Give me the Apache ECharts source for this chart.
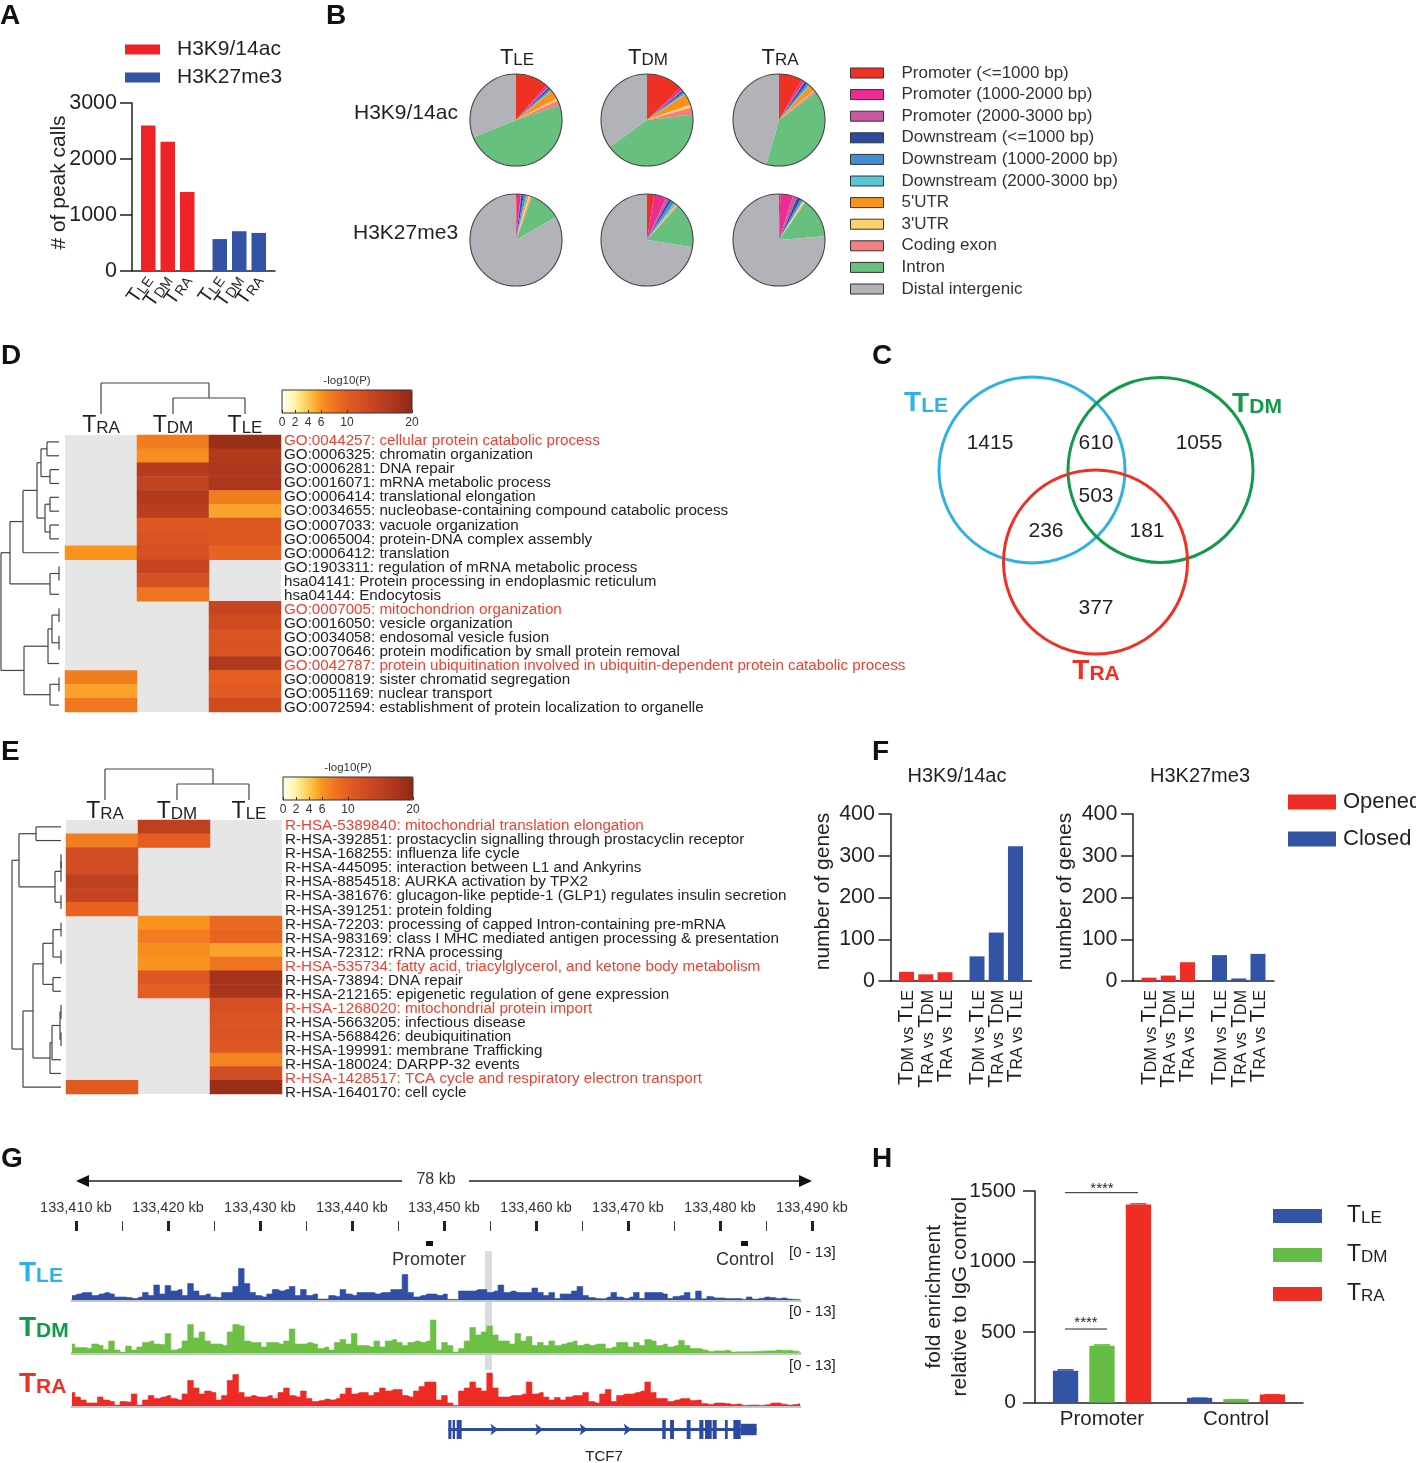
<!DOCTYPE html>
<html><head><meta charset="utf-8">
<script src="https://cdn.jsdelivr.net/npm/echarts@6/dist/echarts.min.js"></script>
<style>html,body{margin:0;padding:0;background:#fff}#c{width:1416px;height:1463px}</style></head>
<body><div id="c"></div>
<script>
// ---------- DATA ----------
const peakCats=['TLE','TDM','TRA','TLE','TDM','TRA'];
const peakAc=[2600,2310,1410];
const peakMe=[570,710,680];
const pieNames=['Promoter (<=1000 bp)','Promoter (1000-2000 bp)','Promoter (2000-3000 bp)','Downstream (<=1000 bp)','Downstream (1000-2000 bp)','Downstream (2000-3000 bp)',"5'UTR","3'UTR",'Coding exon','Intron','Distal intergenic'];
const pieAcLE=[11.4,.8,.3,.7,.6,.3,3.2,.7,1.7,49,31];
const pieAcDM=[12.8,.9,.3,.7,.6,.3,4,1,2.6,41.8,35];
const pieAcRA=[8.2,1,.3,1,.8,.3,2.2,.3,.7,39.7,45.7];
const pieMeLE=[.3,1.4,.2,.8,.9,.4,.5,.7,.5,11,83.5];
const pieMeDM=[2.5,4.2,1.2,.9,1.2,.7,.3,.3,.4,15.7,72.1];
const pieMeRA=[.5,4.4,1.6,1.2,.8,.3,.2,.5,.2,13.9,76];
const heatCols=['TRA','TDM','TLE'];
const termsD=['GO:0044257: cellular protein catabolic process','GO:0006325: chromatin organization','GO:0006281: DNA repair','GO:0016071: mRNA metabolic process','GO:0006414: translational elongation','GO:0034655: nucleobase-containing compound catabolic process','GO:0007033: vacuole organization','GO:0065004: protein-DNA complex assembly','GO:0006412: translation','GO:1903311: regulation of mRNA metabolic process','hsa04141: Protein processing in endoplasmic reticulum','hsa04144: Endocytosis','GO:0007005: mitochondrion organization','GO:0016050: vesicle organization','GO:0034058: endosomal vesicle fusion','GO:0070646: protein modification by small protein removal','GO:0042787: protein ubiquitination involved in ubiquitin-dependent protein catabolic process','GO:0000819: sister chromatid segregation','GO:0051169: nuclear transport','GO:0072594: establishment of protein localization to organelle'];
const redD=[0,12,16];
const heatD=[[null,7.5,19],[null,6.5,16.5],[null,16,17],[null,14.5,17],[null,16.5,7.5],[null,15.5,5.5],[null,11,11],[null,11.5,11],[6,12,9.5],[null,14,null],[null,12,null],[null,8,null],[null,null,14],[null,null,13],[null,null,11.5],[null,null,11.5],[null,null,16.5],[7.5,null,10],[5.5,null,10.5],[7.8,null,13]];
const treeDLeft=[1,[10,[23,[37,[41,[47,0,1],[50,2,3]],[45,[50,4,5],[50,6,7]]],8],[50,[59,9,10],11]],[24,[48,[52,[59,12,13],[59,14,15]],16],[50,[59,17,18],19]]];
const termsE=['R-HSA-5389840: mitochondrial translation elongation','R-HSA-392851: prostacyclin signalling through prostacyclin receptor','R-HSA-168255: influenza life cycle','R-HSA-445095: interaction between L1 and Ankyrins','R-HSA-8854518: AURKA activation by TPX2','R-HSA-381676: glucagon-like peptide-1 (GLP1) regulates insulin secretion','R-HSA-391251: protein folding','R-HSA-72203: processing of capped Intron-containing pre-mRNA','R-HSA-983169: class I MHC mediated antigen processing & presentation','R-HSA-72312: rRNA processing','R-HSA-535734: fatty acid, triacylglycerol, and ketone body metabolism','R-HSA-73894: DNA repair','R-HSA-212165: epigenetic regulation of gene expression','R-HSA-1268020: mitochondrial protein import','R-HSA-5663205: infectious disease','R-HSA-5688426: deubiquitination','R-HSA-199991: membrane Trafficking','R-HSA-180024: DARPP-32 events','R-HSA-1428517: TCA cycle and respiratory electron transport','R-HSA-1640170: cell cycle'];
const redE=[0,10,13,18];
const heatE=[[null,15,null],[7.5,10,null],[12.5,null,null],[12.5,null,null],[15,null,null],[14,null,null],[9.5,null,null],[null,6,9],[null,7.5,9.5],[null,6.5,5.5],[null,6,8],[null,11,18],[null,10,17.5],[null,null,12],[null,null,11.5],[null,null,11.5],[null,null,11],[null,null,7],[null,null,12.5],[10.5,null,19]];
const treeELeft=[12,[19,[36,0,1],[55,[61,[61,2,3],4],[61,5,6]]],[23,[33,[43,[53,[61,7,8],[61,9,10]],[53,11,12]],[50,[52,[60,[61,13,14],[61,15,16]],17],18]],19]];
const treeTop=[31,0,[16,1,2]];
const vennCounts=['1415','610','1055','236','503','181','377'];
const compCats=['TDM vs TLE','TRA vs TDM','TRA vs TLE','TDM vs TLE','TRA vs TDM','TRA vs TLE'];
const acOpened=[22,16,21];
const acClosed=[59,116,323];
const meOpened=[8,13,45];
const meClosed=[62,6,65];
const trackLE=[1.5,2,2.5,2.5,1.5,2,2.5,2,1,1,
.8,.5,1,2.5,1.5,5,2,4.8,3,3.5,
1.5,5.5,3,1.5,2,1,.8,2.5,2.5,4.5,
10.5,5.5,2.5,1.5,1,2,3.5,3,3.5,4.5,
1.5,3.5,1.5,2,.3,.3,1.5,1.2,3.5,2,
1.5,2.5,2.5,2.5,2,2.5,2.5,3.5,3.5,8.5,
2.5,1,1.5,2,
2,1.5,2,.2,.2,3,3,3,3.5,3.5,
2.5,3,5,2.5,3,2.5,2.5,2.5,4,2.5,
1.5,2.5,.5,2,2,3,4.5,1.5,.8,.5,
.4,1,2.5,1,.5,1,2.5,.5,2.5,2.5,
2.5,2,.5,1.2,1.5,2.5,.4,3,.4,1.2,
.7,.7,.5,.5,.5,.2,1,.3,.6,1,
.8,.5,.7,.3,.2,.2];
const trackDM=[3,1.8,1.8,1.5,3,2.5,1.2,4,1,.3,
2.3,1,2,3.5,4,3,2.8,6.5,1,1.5,
4,9.5,5,7,4,3,3,2.5,7,9.5,
9,4,3.5,3.5,2,3.5,3.5,3,4,8,
3,3,3.5,3,1.5,2,1,3.5,4.5,3,
6.5,2.5,2.5,2,4,2,4,4.5,3.5,2.5,
3.5,4,3.5,4,
11,1,3.5,2.5,.3,1.5,4,8.5,6,7,
9,6,4,4,3,6.5,4,5.5,2.5,3.5,
2.5,4,2.5,3,3.5,4,2.5,3,2.5,3,
3,1.5,2,3.5,3.5,2,3.5,2.5,4.5,4,
2.5,3,2,2.5,4.2,2.5,1.5,1.5,1,.5,
.7,.7,.9,.3,.4,.4,.4,.5,.6,.7,
.7,1,.8,.9,.6,.4];
const trackRA=[4.5,3,2,1,1,3,2,1.5,.3,1.5,
1.3,4,.3,2,3.5,2.5,3,3.5,2.5,2,
4,8.5,6,4,5,4.5,2,3.5,8.5,10.5,
4.5,3,3.5,3,3,3.5,2.5,4.5,6,3.5,
3,5,2.5,1.5,1.8,2.3,2,2.5,4,6,
4,4.5,4.5,3.5,4.5,6,5,5.5,5.5,3.5,
3,5,6.5,8,
8,2,3.5,1,.2,5,6,8,6,5,
11,6,3,3,3.5,3.5,4,8,4,4.5,
3,2,2.8,2,3,3.5,3.5,4.5,1.5,1,
4,5.5,1.5,3.5,4,4,4.5,5,8,4.5,
2.5,2.5,1.5,2,2.5,2.5,1.8,2,.8,.5,
1,1,.8,.5,.7,.2,.3,.3,.2,.4,
1,1,.6,.3,.5,.8];
const exonsKb=[[133450.47,133450.8],[133450.94,133451.2],[133451.38,133451.92],[133473.73,133474.1],[133474.57,133475],[133476.38,133476.8],[133477.75,133478.2],[133478.37,133479.1],[133479.2,133479.64],[133480.54,133480.84],[133481.45,133482.25]];
const utrKb=[[133482.25,133483.98]];
const geneSpanKb=[[133450.47,133483.98]];
const geneArrowsKb=[133455.36,133460.25,133465.07,133469.85];
const chipCats=['Promoter','Control'];
const chipLE=[225,33];
const chipDM=[402,24];
const chipRA=[1404,57];
const chipErrLE=[12,3];
const chipErrDM=[12,2];
const chipErrRA=[10,4];

// ---------- STYLE HELPERS ----------
const FONT='"Liberation Sans",Arial,sans-serif';
const INK='#231f20';
const RED='#ee2e24',BLUE='#3353a4',GREEN='#66bd45';
const pieColors=['#ee3124','#ec2c90','#c85aa0','#2e4a9e','#3f8fd2','#5bc5d8','#f7941d','#fdd26e','#f37f7f','#67c07d','#b2b3b8'];
const heatScale=['#fffff2','#fff3a8','#fdca4f','#f9941f','#ef7420','#e55d20','#d55024','#c64520','#b53c1e','#a5321a','#8e2a14'];
const mark=s=>s.replace(/T(LE|DM|RA)/g,'{T|T}{s|$1}').replace(' vs ','{s| vs }');
const richOf=(a,b)=>({T:{fontSize:a,color:INK,fontFamily:FONT,verticalAlign:'bottom'},s:{fontSize:b,color:INK,fontFamily:FONT,verticalAlign:'bottom'}});
const SLOTS=22, barSlots=[2,5,8,13,16,19];
const slotCats=labels=>{const a=Array(SLOTS).fill('');barSlots.forEach((s,i)=>a[s]=labels[i]);return a;};
const slotVals=(vals,from)=>{const a=Array(SLOTS).fill(null);vals.forEach((v,i)=>a[barSlots[from+i]]=v);return a;};

const grids=[],xAxes=[],yAxes=[],series=[],gfx=[],legends=[],vms=[];
function addGrid(g,x,y){grids.push(Object.assign({containLabel:false},g));const i=grids.length-1;xAxes.push(Object.assign({gridIndex:i},x));yAxes.push(Object.assign({gridIndex:i},y));return i;}
function text(x,y,str,fs,o={}){gfx.push({type:'text',x,y:y+1,z:o.z||20,rotation:o.rot||0,style:Object.assign({text:str,fontSize:fs,fontFamily:FONT,fill:o.fill||INK,fontWeight:o.bold?'bold':'normal',align:o.align||'left',verticalAlign:'middle'},o.rich?{rich:o.rich}:{})});}
function tmark(x,y,str,a,b,fill,bold,align){const fw=bold?'bold':'normal';text(x,y,str.replace(/T(LE|DM|RA)/,'{T|T}{s|$1}'),a,{align:align||'center',fill,rich:{T:{fontSize:a,fill:fill||INK,fontFamily:FONT,fontWeight:fw,verticalAlign:'bottom'},s:{fontSize:b,fill:fill||INK,fontFamily:FONT,fontWeight:fw,verticalAlign:'bottom'}}});}
const valAxis=(max,interval,name,gap,nameFs,nameShift,labFs,tl,mg,lh,pad)=>({type:'value',min:0,max,interval,name,nameLocation:'middle',nameGap:gap,nameRotate:90,nameMoveOverlap:false,
 nameTextStyle:Object.assign({fontSize:nameFs,fontFamily:FONT,color:INK,padding:[0,0,0,nameShift]},lh?{lineHeight:lh}:{}),axisLine:{show:true,lineStyle:{color:INK,width:1.5}},axisTick:{show:true,length:tl,lineStyle:{color:INK,width:1.5}},
 axisLabel:{fontSize:labFs,fontFamily:FONT,color:INK,margin:mg,padding:[pad,0,0,0],formatter:v=>String(v)},splitLine:{show:false}});
function slotXAxis(labels,a,b,rot,mg){return {type:'category',data:slotCats(labels),axisLine:{lineStyle:{color:INK,width:1.5}},axisTick:{show:false},
 axisLabel:{interval:0,rotate:rot,margin:mg,formatter:v=>v?mark(v):'',rich:richOf(a,b)}};}
function slotBars(name,g,vals,from,w,color){series.push({type:'bar',name,xAxisIndex:g,yAxisIndex:g,data:slotVals(vals,from),barWidth:w,stack:'s'+g,itemStyle:{color},silent:true});}
const lineRender=(color,lw)=>(p,api)=>{const a=api.coord([api.value(0),api.value(1)]),b=api.coord([api.value(2),api.value(3)]);return {type:'line',shape:{x1:a[0],y1:a[1],x2:b[0],y2:b[1]},style:{stroke:color,lineWidth:lw}};};
function treeSegs(tree,leaf,flip){const out=[];const seg=(h1,p1,h2,p2)=>out.push(flip?[p1,h1,p2,h2]:[h1,p1,h2,p2]);
 const walk=n=>{if(typeof n==='number')return{p:n,h:leaf};const h=n[0],k=n.slice(1).map(walk);const p=(k[0].p+k[k.length-1].p)/2;seg(h,k[0].p,h,k[k.length-1].p);k.forEach(c=>seg(h,c.p,c.h,c.p));return{p,h};};walk(tree);return out;}

// ---------- A ----------
{const g=addGrid({left:132,top:103,width:143,height:168},slotXAxis(peakCats,20,14,55,6),valAxis(3000,1000,'# of peak calls',62,21,9,21.5,12,15,0,3));
 slotBars('H3K9/14ac',g,peakAc,0,14.5,'#ee2227');slotBars('H3K27me3',g,peakMe,3,14.5,BLUE);
 legends.push({left:125,top:39,orient:'vertical',padding:0,itemWidth:35,itemHeight:10,itemGap:7,icon:'rect',selectedMode:false,data:['H3K9/14ac','H3K27me3'],textStyle:{fontSize:21,lineHeight:21,fontFamily:FONT,color:INK,padding:[0,0,0,12]}});}

// ---------- B ----------
const pieCX=[516,647,779],pieCY=[120,240];
[[pieAcLE,pieAcDM,pieAcRA],[pieMeLE,pieMeDM,pieMeRA]].forEach((row,r)=>row.forEach((vals,c)=>{
 series.push({type:'pie',center:[pieCX[c],pieCY[r]],radius:46,startAngle:90,clockwise:true,silent:true,color:pieColors,label:{show:false},labelLine:{show:false},data:vals.map((v,i)=>({name:pieNames[i],value:v}))});
 gfx.push({type:'circle',shape:{cx:pieCX[c],cy:pieCY[r],r:46},z:20,style:{fill:'none',stroke:'#444',lineWidth:1.1}});
}));
legends.push({left:850,top:64,orient:'vertical',padding:0,itemWidth:33,itemHeight:10,itemGap:3.6,icon:'rect',selectedMode:false,data:pieNames,itemStyle:{borderColor:'#333',borderWidth:1},textStyle:{fontSize:17,lineHeight:18,fontFamily:FONT,color:'#333',padding:[0,0,0,13]}});
['TLE','TDM','TRA'].forEach((t,i)=>tmark(pieCX[i]+1,57,t,22,17));
text(354,112,'H3K9/14ac',21);text(353,232,'H3K27me3',21);

// ---------- D, E heatmaps ----------
function heatPanel(o){
 const g=addGrid({left:o.x,top:o.y,width:216,height:o.h,show:true,backgroundColor:'#e6e6e6',borderWidth:0},
  {type:'category',data:heatCols,show:false},{type:'category',data:o.terms,inverse:true,show:false});
 series.push({type:'heatmap',xAxisIndex:g,yAxisIndex:g,silent:true,progressive:0,
  data:o.heat.flatMap((row,r)=>row.map((v,c)=>v==null?null:[c,r,v]).filter(Boolean))});
 const sIdx=series.length-1;
 const gl=addGrid({left:o.x+216,top:o.labTop,width:1,height:281},{type:'value',show:false},
  {type:'category',data:o.terms,inverse:true,position:'right',axisLine:{show:false},axisTick:{show:false},
   axisLabel:{interval:0,margin:o.labMargin,fontSize:15.2,fontFamily:FONT,color:(v,i)=>o.red.includes(i)?'#f04030':'#222'}});
 const gt=addGrid({left:0,top:o.y,width:o.x+1,height:o.h},{type:'value',min:0,max:o.x+1,show:false},{type:'value',min:-.5,max:19.5,inverse:true,show:false});
 series.push({type:'custom',xAxisIndex:gt,yAxisIndex:gt,silent:true,data:treeSegs(o.tree,o.leaf,false),encode:{x:[0,2],y:[1,3]},renderItem:lineRender('#444',1.2)});
 const gu=addGrid({left:o.topX,top:o.topY,width:216,height:34},
  {type:'value',min:-.5,max:2.5,position:'bottom',axisLine:{show:false},axisTick:{show:false},splitLine:{show:false},
   axisLabel:{customValues:[0,1,2],margin:0,showMinLabel:true,showMaxLabel:true,formatter:v=>mark(heatCols[Math.round(v)]),rich:richOf(23,17)}},
  {type:'value',min:0,max:34,show:false});
 series.push({type:'custom',xAxisIndex:gu,yAxisIndex:gu,silent:true,data:treeSegs(treeTop,0,true),encode:{x:[0,2],y:[1,3]},renderItem:lineRender('#444',1.2)});
 vms.push({type:'continuous',seriesIndex:sIdx,min:0,max:20,orient:'horizontal',left:o.barX,top:o.barY,padding:0,itemWidth:23,itemHeight:130,text:null,calculable:false,realtime:false,hoverLink:false,inRange:{color:heatScale},show:true,textStyle:{fontSize:1,color:'transparent'}});
 addGrid({left:o.barX,top:o.barY,width:130,height:23,show:true,z:6,borderColor:'#333',borderWidth:1,backgroundColor:'transparent'},
  {type:'value',min:0,max:20,z:7,axisLine:{show:false},axisTick:{customValues:[0,2,4,6,10,20],inside:true,length:3,lineStyle:{color:'#333',width:1}},splitLine:{show:false},
   axisLabel:{customValues:[0,2,4,6,10,20],margin:4,fontSize:12,fontFamily:FONT,color:'#333'}},
  {type:'value',show:false});
 text(o.barX+65,o.barY-10.5,'-log10(P)',11.5,{align:'center',fill:'#333'});
}
heatPanel({x:65,y:435,h:277,labTop:434,labMargin:2,terms:termsD,red:redD,heat:heatD,tree:treeDLeft,leaf:59,topX:65,topY:380,barX:282,barY:390});
heatPanel({x:66,y:820,h:274,labTop:819,labMargin:2,terms:termsE,red:redE,heat:heatE,tree:treeELeft,leaf:61,topX:69,topY:766,barX:283,barY:777});

// ---------- C ----------
[[1032,470,93,'#30b0e6'],[1160.5,470,92.5,'#129a4a'],[1095.5,562,92,'#ee3124']].forEach(a=>gfx.push({type:'circle',shape:{cx:a[0],cy:a[1],r:a[2]},z:20,style:{fill:'none',stroke:a[3],lineWidth:3}}));
[[990,442],[1096,442],[1199,442],[1046,530],[1096,495],[1147,530],[1096,607]].forEach((p,i)=>text(p[0],p[1],vennCounts[i],21,{align:'center'}));
tmark(926,402,'TLE',28,21,'#30b0e6',true);tmark(1257,403,'TDM',28,21,'#129a4a',true);tmark(1096,670,'TRA',28,21,'#ee3124',true);

// ---------- F ----------
function compPanel(left,name,op,cl){const g=addGrid({left,top:814,width:141,height:167},slotXAxis(compCats,21,16,90,9),valAxis(400,100,'number of genes',57,21,12,21.5,12,15.5,0,3));
 slotBars(name[0],g,op,0,15,RED);slotBars(name[1],g,cl,3,15,BLUE);}
compPanel(890.5,['Opened','Closed'],acOpened,acClosed);compPanel(1133,['Opened','Closed'],meOpened,meClosed);
legends.push({left:1288,top:791,orient:'vertical',padding:0,itemWidth:48,itemHeight:15,itemGap:15,icon:'rect',selectedMode:false,data:['Opened','Closed'],textStyle:{fontSize:22,lineHeight:22,fontFamily:FONT,color:INK,padding:[0,0,0,2]}});
text(957,775,'H3K9/14ac',20,{align:'center'});text(1200,775,'H3K27me3',20,{align:'center'});

// ---------- G ----------
const kbAxis={type:'value',min:133410,max:133490,interval:10};
addGrid({left:76,top:1221,width:736,height:10},Object.assign({},kbAxis,{position:'top',axisLine:{show:false,onZero:false},splitLine:{show:false},
 axisTick:{inside:true,length:10,lineStyle:{color:'#222',width:3}},minorTick:{show:true,splitNumber:2,length:10,lineStyle:{color:'#444',width:1}},
 axisLabel:{margin:6,fontSize:14.5,fontFamily:FONT,color:'#333',showMinLabel:true,showMaxLabel:true,formatter:v=>{const s=String(v);return s.slice(0,3)+','+s.slice(3)+' kb';}}}),{type:'value',show:false});
gfx.push({type:'rect',shape:{x:485,y:1251,width:7,height:119},z:-1,style:{fill:'#d9dbde'}});
[[1261,trackLE,'#2f4ea6'],[1314,trackDM,'#6cc043'],[1367,trackRA,'#ee2a24']].forEach(t=>{
 const g=addGrid({left:72,top:t[0],width:728,height:39},{type:'category',boundaryGap:false,data:t[1].map((_,i)=>i),axisLine:{lineStyle:{color:'#c3c6ca',width:3}},axisTick:{show:false},axisLabel:{show:false}},{type:'value',min:0,max:13,show:false});
 series.push({type:'line',xAxisIndex:g,yAxisIndex:g,data:t[1],step:'middle',showSymbol:false,silent:true,sampling:null,lineStyle:{color:t[2],width:.6},areaStyle:{color:t[2],opacity:1}});
});
{const g=addGrid({left:76,top:1420,width:736,height:19},Object.assign({},kbAxis,{show:false}),{type:'value',min:0,max:1,show:false});
 const gene='#2b4aa0',rect=(lo,hi)=>(p,api)=>{const a=api.coord([api.value(0),hi]),b=api.coord([api.value(1),lo]);return {type:'rect',shape:{x:a[0],y:a[1],width:b[0]-a[0],height:b[1]-a[1]},style:{fill:gene}};};
 const cust=(data,fn)=>series.push({type:'custom',xAxisIndex:g,yAxisIndex:g,silent:true,data,encode:{x:[0,1]},renderItem:fn});
 cust(geneSpanKb,rect(.42,.58));cust(exonsKb,rect(0,1));cust(utrKb,rect(.2,.8));
 series.push({type:'custom',xAxisIndex:g,yAxisIndex:g,silent:true,data:geneArrowsKb.map(v=>[v,.5]),encode:{x:0,y:1},renderItem:(p,api)=>{const c=api.coord([api.value(0),.5]);return {type:'polygon',shape:{points:[[c[0]-3,c[1]-6],[c[0]+5,c[1]],[c[0]-3,c[1]+6],[c[0]-1,c[1]]]},style:{fill:gene}};}});
}
gfx.push({type:'line',z:20,shape:{x1:85,y1:1181,x2:402,y2:1181},style:{stroke:'#222',lineWidth:1.3}},{type:'line',z:20,shape:{x1:469,y1:1181,x2:803,y2:1181},style:{stroke:'#222',lineWidth:1.3}},
 {type:'polygon',z:20,shape:{points:[[76,1181],[89,1175],[89,1187]]},style:{fill:'#111'}},{type:'polygon',z:20,shape:{points:[[812,1181],[799,1175],[799,1187]]},style:{fill:'#111'}},
 {type:'rect',z:20,shape:{x:426,y:1241,width:7,height:5},style:{fill:'#111'}},{type:'rect',z:20,shape:{x:741,y:1241,width:7,height:5},style:{fill:'#111'}});
text(436,1179,'78 kb',16,{align:'center',fill:'#333'});
text(429,1259,'Promoter',18,{align:'center',fill:'#333'});text(745,1259,'Control',18,{align:'center',fill:'#333'});
[1252,1311,1365].forEach(y=>text(789,y,'[0 - 13]',15,{fill:'#222'}));
text(604,1456,'TCF7',15,{align:'center',fill:'#222'});
tmark(19,1272,'TLE',28,21,'#30b0e6',true,'left');tmark(19,1327,'TDM',28,21,'#129a4a',true,'left');tmark(19,1383,'TRA',28,21,'#ee3124',true,'left');

// ---------- H ----------
{const g=addGrid({left:1035,top:1191,width:268,height:211.5},
  {type:'category',data:chipCats,axisLine:{lineStyle:{color:INK,width:1.5}},axisTick:{show:false},axisLabel:{fontSize:20.5,fontFamily:FONT,color:INK,margin:6}},
  valAxis(1500,500,'fold enrichment\nrelative to IgG control',62,21,0,21,12,19,26,6));
 const cols={TLE:BLUE,TDM:GREEN,TRA:RED};
 [['TLE',chipLE,chipErrLE,-36.5],['TDM',chipDM,chipErrDM,0],['TRA',chipRA,chipErrRA,36.5]].forEach(s=>{
  series.push({type:'bar',name:s[0],xAxisIndex:g,yAxisIndex:g,data:s[1],barWidth:25.3,barGap:'44%',silent:true,itemStyle:{color:cols[s[0]]}});
  series.push({type:'custom',xAxisIndex:g,yAxisIndex:g,silent:true,data:s[1].map((v,i)=>[chipCats[i],v,v+s[2][i]]),encode:{x:0,y:[1,2]},z:3,
   renderItem:(p,api)=>{const a=api.coord([api.value(0),api.value(2)]),b=api.coord([api.value(0),api.value(1)]);return {type:'rect',shape:{x:a[0]+s[3]-8,y:a[1],width:16,height:Math.max(b[1]-a[1],1)},style:{fill:cols[s[0]]}};}});
 });
 legends.push({left:1273,top:1204,orient:'vertical',padding:0,itemWidth:49,itemHeight:14,itemGap:16,icon:'rect',selectedMode:false,data:['TLE','TDM','TRA'],formatter:n=>mark(n),textStyle:{lineHeight:22,padding:[0,0,0,20],rich:richOf(23,17)}});
}
gfx.push({type:'line',z:20,shape:{x1:1065,y1:1192.7,x2:1138,y2:1192.7},style:{stroke:'#222',lineWidth:1}},{type:'line',z:20,shape:{x1:1065,y1:1329,x2:1107,y2:1329},style:{stroke:'#222',lineWidth:1}});
text(1102,1188,'****',15,{align:'center'});text(1086,1322,'****',15,{align:'center'});

// ---------- panel letters ----------
[['A',0,15],['B',326,15],['D',1,355],['C',872,355],['E',1,751],['F',872,751],['G',1,1158],['H',872,1158]].forEach(p=>text(p[1],p[2],p[0],28,{bold:true,fill:'#111'}));

const chart=echarts.init(document.getElementById('c'),null,{renderer:'canvas',width:1416,height:1463});
chart.setOption({animation:false,backgroundColor:'#fff',textStyle:{fontFamily:FONT},grid:grids,xAxis:xAxes,yAxis:yAxes,series,legend:legends,visualMap:vms,graphic:{elements:gfx}});
</script></body></html>
